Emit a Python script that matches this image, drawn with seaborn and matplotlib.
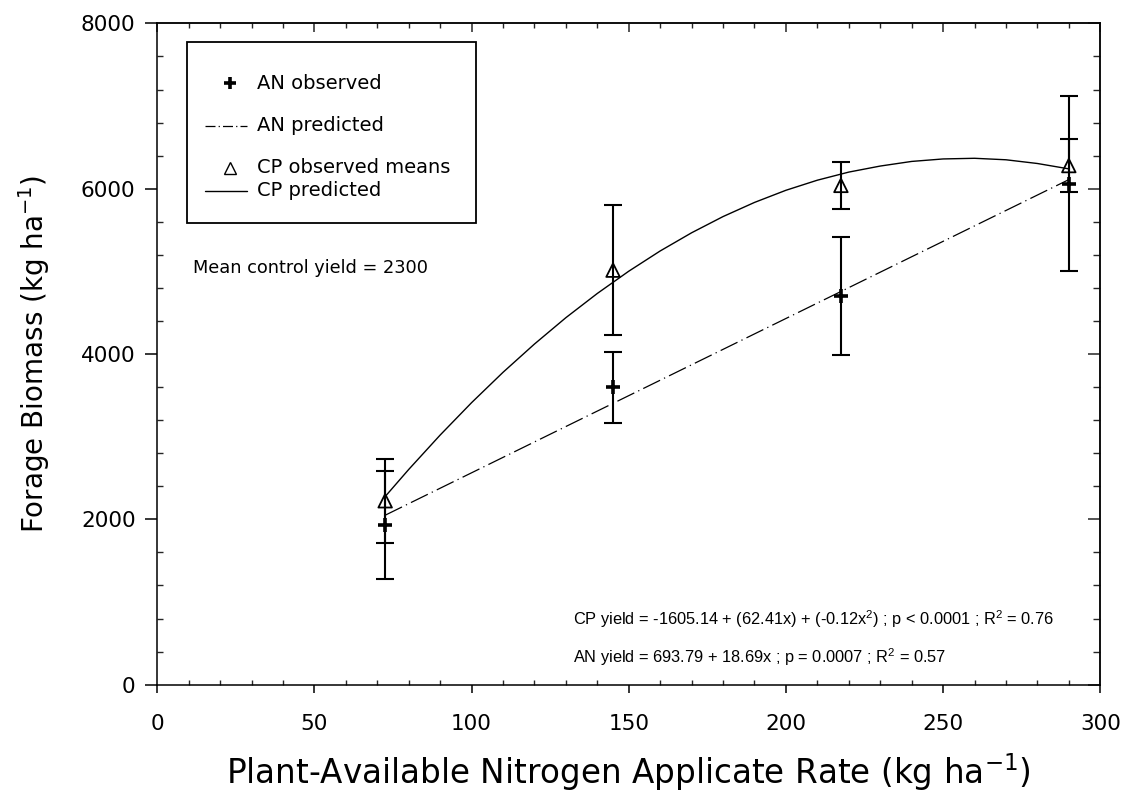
import numpy as np
import pandas as pd
import matplotlib
matplotlib.use("Agg")
import matplotlib.pyplot as plt
from matplotlib.patches import Rectangle
from matplotlib.ticker import MultipleLocator
import seaborn as sns

# ---------------- data ----------------
n_rate = [72.5, 145, 217.5, 290]
an_obs = [1930, 3597, 4700, 6060]
an_err = [655, 431, 712, 1060]
cp_obs = [2225, 5015, 6040, 6280]
cp_err = [505, 787, 280, 325]

an_pred_x = [72.5, 290]
an_pred_y = [2050, 6110]

cp_pred_x = [72.5, 80, 90, 100, 110, 120, 130, 140, 150, 160, 170, 180, 190,
             200, 210, 220, 230, 240, 250, 260, 270, 280, 290]
cp_pred_y = [2276, 2604, 3020, 3412, 3779, 4121, 4440, 4733, 5002, 5247, 5467,
             5663, 5834, 5981, 6103, 6201, 6274, 6330, 6360, 6368, 6350, 6305, 6240]

x_major = [0, 50, 100, 150, 200, 250, 300]
y_major = [0, 2000, 4000, 6000, 8000]

legend_labels = ["AN observed", "AN predicted", "CP observed means", "CP predicted"]
note_text = "Mean control yield = 2300"
cp_eq = "CP yield = -1605.14 + (62.41x) + (-0.12x$^{2}$) ; p < 0.0001 ; R$^{2}$ = 0.76"
an_eq = "AN yield = 693.79 + 18.69x ; p = 0.0007 ; R$^{2}$ = 0.57"
xlabel = "Plant-Available Nitrogen Applicate Rate (kg ha$^{-1}$)"
ylabel = "Forage Biomass (kg ha$^{-1}$)"

# ---------------- style ----------------
sns.set_theme(style="ticks")
plt.rcParams["font.family"] = ["DejaVu Sans"]
plt.rcParams["mathtext.default"] = "regular"
plt.rcParams["axes.linewidth"] = 1.1

eq_family, eq_size = ["Liberation Sans", "DejaVu Sans"], 11.8

fig = plt.figure(figsize=(11.25, 7.98), dpi=100)
ax = fig.add_axes([0.1398, 0.142, 0.8382, 0.8287])
ax.set_facecolor("white")

dash_dot = (0, (15, 3.5, 1, 3.5))
an_df = pd.DataFrame({"x": an_pred_x, "y": an_pred_y})
cp_df = pd.DataFrame({"x": cp_pred_x, "y": cp_pred_y})
sns.lineplot(data=an_df, x="x", y="y", ax=ax, color="black", lw=0.9,
             linestyle=dash_dot, sort=False)
sns.lineplot(data=cp_df, x="x", y="y", ax=ax, color="black", lw=1.0, sort=False)

# error bars
ax.errorbar(n_rate, an_obs, yerr=an_err, fmt="none", ecolor="black",
            elinewidth=1.5, capsize=6.5, capthick=1.5, zorder=3)
ax.errorbar(n_rate, cp_obs, yerr=cp_err, fmt="none", ecolor="black",
            elinewidth=1.5, capsize=6.5, capthick=1.5, zorder=3)

# observed means
obs_df = pd.DataFrame({"x": n_rate, "an": an_obs, "cp": cp_obs})
sns.scatterplot(data=obs_df, x="x", y="an", ax=ax, marker="+", color="black",
                s=90, linewidth=2.6, zorder=4)
sns.scatterplot(data=obs_df, x="x", y="cp", ax=ax, marker="^", s=95,
                linewidth=1.3, zorder=4)
tri = ax.collections[-1]
tri.set_facecolor("none")
tri.set_edgecolor("black")

# axes limits and ticks
ax.set_xlim(0, 300)
ax.set_ylim(0, 8000)
ax.set_xticks(x_major)
ax.set_yticks(y_major)
ax.xaxis.set_minor_locator(MultipleLocator(10))
ax.yaxis.set_minor_locator(MultipleLocator(400))
ax.tick_params(axis="x", which="major", direction="out", length=5.8, width=1.1,
               labelsize=15.5, pad=15, colors="black")
ax.tick_params(axis="x", which="minor", direction="in", length=3.6, width=1.0)
ax.tick_params(axis="y", which="major", direction="out", length=8.6, width=1.1,
               labelsize=15.5, pad=7, colors="black")
ax.tick_params(axis="y", which="minor", direction="in", length=4.3, width=1.0)
ax.tick_params(top=False, right=False, which="both")
for s in ax.spines.values():
    s.set_visible(True)
    s.set_color("black")
    s.set_linewidth(1.1)

top = ax.secondary_xaxis("top")
top.set_xticks(x_major)
top.xaxis.set_minor_locator(MultipleLocator(10))
top.tick_params(which="major", direction="in", length=6.5, width=1.1, labeltop=False)
top.tick_params(which="minor", direction="in", length=3.6, width=1.0)
top.spines["top"].set_linewidth(1.1)

right = ax.secondary_yaxis("right")
right.set_yticks(y_major)
right.yaxis.set_minor_locator(MultipleLocator(400))
right.tick_params(which="major", direction="in", length=8.6, width=1.1, labelright=False)
right.tick_params(which="minor", direction="in", length=5.0, width=1.0)
right.spines["right"].set_linewidth(1.1)

ax.set_xlabel(xlabel, fontsize=23.5, labelpad=13, color="black")
ax.set_ylabel(ylabel, fontsize=20, labelpad=21, color="black")

# ---------------- legend (manual, SigmaPlot-like) ----------------
T = ax.transAxes
ax.add_patch(Rectangle((0.0312, 0.698), 0.338 - 0.0312, 0.9714 - 0.698,
                       transform=T, fill=False, lw=1.3, ec="black", zorder=5))
ax.plot([0.0771], [0.9094], transform=T, marker="+", ms=9, mew=2.6,
        color="black", ls="none", zorder=6)
ax.plot([0.0507, 0.0949], [0.8453, 0.8453], transform=T, color="black", lw=0.9,
        linestyle=(0, (8, 2.5, 1, 2.5)), zorder=6)
ax.plot([0.0771], [0.7818], transform=T, marker="^", ms=8, mew=1.0,
        mfc="none", mec="black", ls="none", zorder=6)
ax.plot([0.0507, 0.0949], [0.7466, 0.7466], transform=T, color="black", lw=1.0,
        zorder=6)
for yy, lab in zip([0.9094, 0.8453, 0.7818, 0.7466], legend_labels):
    ax.text(0.1054, yy, lab, transform=T, fontsize=14, va="center",
            ha="left", color="black", zorder=6)

# ---------------- annotations ----------------
ax.text(11.4, 5041, note_text, fontsize=12.8, va="center", ha="left", color="black")
ax.text(132.3, 795, cp_eq, fontsize=eq_size, va="center", ha="left", color="black",
        family=eq_family)
ax.text(132.3, 335, an_eq, fontsize=eq_size, va="center", ha="left", color="black",
        family=eq_family)

fig.savefig("out.png", dpi=100, facecolor="white")
